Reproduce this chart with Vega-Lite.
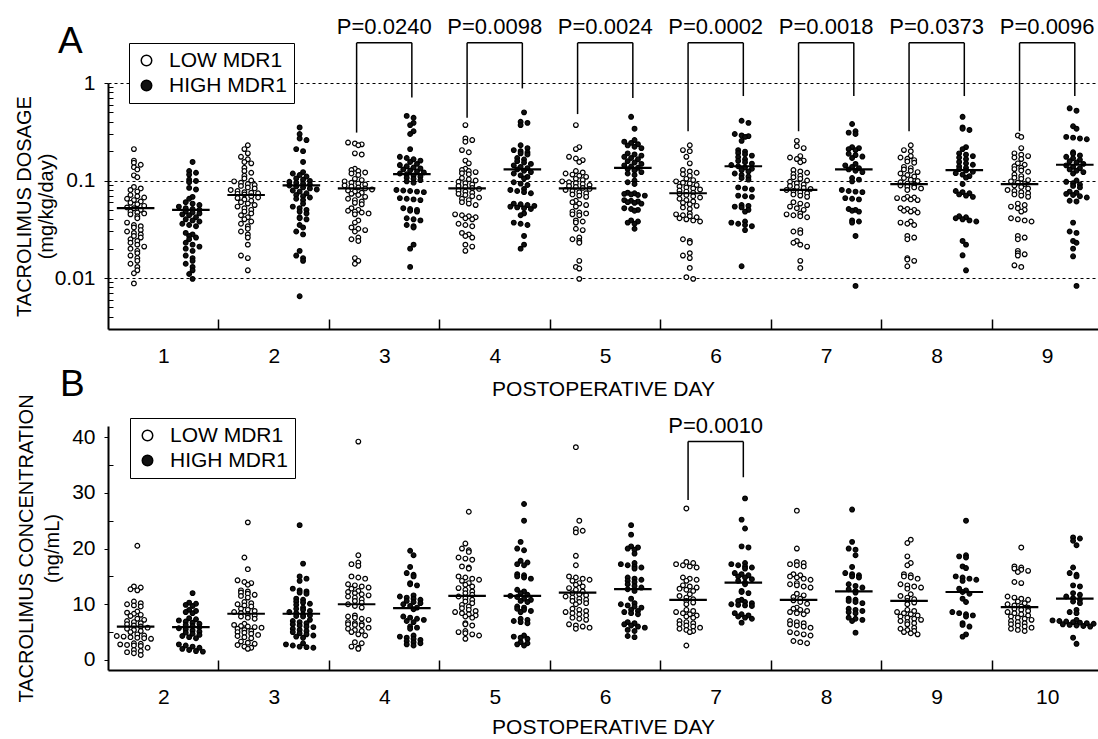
{
"$schema": "https://vega.github.io/schema/vega-lite/v6.json",
"background": "white",
"padding": {"left": 13, "top": 15, "right": 0, "bottom": 0},
"config": {
  "font": "Liberation Sans",
  "view": {"stroke": null},
  "axis": {"domainColor": "black", "tickColor": "black", "labelColor": "black", "titleColor": "black", "titleFontWeight": "normal", "labelFontSize": 21, "titleFontSize": 21, "labelFont": "Liberation Sans", "titleFont": "Liberation Sans"},
  "legend": {"title": null, "fillColor": "white", "strokeColor": "black", "padding": 7, "labelFontSize": 21, "labelOffset": 12, "symbolSize": 110, "symbolStrokeColor": "black", "symbolStrokeWidth": 1.5, "symbolType": "circle", "rowPadding": 3, "labelLimit": 400, "labelColor": "black", "labelFont": "Liberation Sans"}
},
"datasets": {
  "ptsA": [
    {"day":1,"g":"LOW MDR1","v":[0.21,0.16,0.152,0.145,0.137,0.13,0.113,0.108,0.086,0.083,0.08,0.077,0.071,0.069,0.067,0.065,0.063,0.061,0.059,0.057,0.055,0.053,0.052,0.05,0.048,0.047,0.046,0.045,0.043,0.041,0.037,0.035,0.034,0.033,0.031,0.03,0.029,0.028,0.027,0.026,0.025,0.024,0.023,0.022,0.021,0.02,0.019,0.018,0.017,0.016,0.015,0.014,0.013,0.012,0.0112,0.0088]},
    {"day":1,"g":"HIGH MDR1","v":[0.155,0.125,0.12,0.115,0.102,0.099,0.096,0.084,0.081,0.068,0.065,0.06,0.058,0.056,0.054,0.052,0.051,0.05,0.048,0.047,0.046,0.045,0.044,0.042,0.04,0.039,0.038,0.036,0.035,0.034,0.029,0.028,0.027,0.026,0.025,0.023,0.022,0.021,0.02,0.019,0.017,0.016,0.015,0.014,0.013,0.012,0.011,0.0098]},
    {"day":2,"g":"LOW MDR1","v":[0.23,0.21,0.19,0.175,0.165,0.155,0.15,0.135,0.125,0.12,0.112,0.105,0.1,0.098,0.095,0.092,0.09,0.088,0.085,0.083,0.08,0.078,0.076,0.075,0.074,0.073,0.072,0.069,0.067,0.066,0.064,0.062,0.06,0.058,0.056,0.054,0.052,0.05,0.048,0.046,0.044,0.042,0.04,0.038,0.036,0.034,0.032,0.03,0.028,0.026,0.022,0.017,0.016,0.012]},
    {"day":2,"g":"HIGH MDR1","v":[0.35,0.3,0.27,0.26,0.21,0.2,0.155,0.122,0.118,0.114,0.11,0.105,0.102,0.099,0.097,0.095,0.093,0.091,0.089,0.087,0.085,0.083,0.081,0.079,0.077,0.074,0.071,0.069,0.067,0.065,0.063,0.058,0.054,0.052,0.05,0.048,0.046,0.042,0.041,0.04,0.035,0.033,0.03,0.028,0.019,0.017,0.016,0.015,0.0065]},
    {"day":3,"g":"LOW MDR1","v":[0.245,0.24,0.235,0.23,0.19,0.185,0.132,0.128,0.125,0.121,0.118,0.114,0.104,0.101,0.098,0.095,0.093,0.091,0.089,0.087,0.085,0.083,0.081,0.079,0.077,0.075,0.073,0.071,0.068,0.065,0.063,0.061,0.059,0.057,0.052,0.05,0.049,0.048,0.047,0.046,0.045,0.039,0.037,0.033,0.032,0.031,0.03,0.026,0.025,0.024,0.016,0.015,0.014]},
    {"day":3,"g":"HIGH MDR1","v":[0.46,0.44,0.39,0.37,0.32,0.3,0.21,0.175,0.17,0.165,0.16,0.155,0.148,0.144,0.14,0.136,0.133,0.13,0.127,0.124,0.121,0.118,0.116,0.113,0.11,0.107,0.104,0.101,0.098,0.095,0.08,0.079,0.078,0.077,0.076,0.066,0.065,0.064,0.063,0.052,0.051,0.05,0.049,0.048,0.041,0.04,0.039,0.035,0.034,0.033,0.022,0.02,0.013]},
    {"day":4,"g":"LOW MDR1","v":[0.37,0.27,0.26,0.25,0.205,0.195,0.16,0.15,0.132,0.128,0.125,0.122,0.119,0.116,0.106,0.103,0.1,0.097,0.094,0.091,0.088,0.086,0.084,0.082,0.079,0.077,0.075,0.073,0.071,0.069,0.067,0.065,0.063,0.06,0.058,0.056,0.045,0.044,0.043,0.042,0.041,0.04,0.036,0.035,0.034,0.029,0.028,0.027,0.026,0.022,0.021,0.019]},
    {"day":4,"g":"HIGH MDR1","v":[0.5,0.4,0.39,0.37,0.23,0.215,0.205,0.2,0.195,0.19,0.185,0.17,0.164,0.158,0.153,0.148,0.143,0.138,0.134,0.13,0.126,0.122,0.118,0.113,0.109,0.105,0.096,0.093,0.09,0.082,0.08,0.078,0.076,0.074,0.058,0.057,0.056,0.055,0.054,0.053,0.052,0.051,0.046,0.044,0.037,0.036,0.035,0.027,0.022,0.02]},
    {"day":5,"g":"LOW MDR1","v":[0.37,0.22,0.21,0.175,0.168,0.162,0.155,0.125,0.121,0.118,0.115,0.112,0.109,0.104,0.101,0.098,0.096,0.094,0.092,0.09,0.088,0.086,0.084,0.082,0.08,0.078,0.076,0.074,0.072,0.07,0.068,0.062,0.06,0.058,0.056,0.054,0.048,0.047,0.046,0.045,0.044,0.039,0.038,0.037,0.032,0.031,0.026,0.025,0.024,0.023,0.015,0.013,0.0125,0.0098]},
    {"day":5,"g":"HIGH MDR1","v":[0.45,0.34,0.26,0.25,0.243,0.236,0.229,0.222,0.215,0.19,0.185,0.18,0.175,0.17,0.165,0.158,0.153,0.148,0.143,0.139,0.135,0.131,0.127,0.122,0.118,0.114,0.1,0.096,0.092,0.075,0.074,0.073,0.072,0.071,0.07,0.063,0.062,0.061,0.06,0.059,0.058,0.052,0.051,0.05,0.049,0.039,0.038,0.037,0.036,0.032]},
    {"day":6,"g":"LOW MDR1","v":[0.23,0.205,0.2,0.175,0.15,0.128,0.124,0.12,0.116,0.112,0.104,0.101,0.098,0.095,0.093,0.09,0.087,0.085,0.083,0.081,0.079,0.077,0.075,0.073,0.071,0.069,0.067,0.065,0.063,0.061,0.059,0.057,0.055,0.053,0.051,0.046,0.045,0.044,0.043,0.042,0.041,0.04,0.039,0.038,0.025,0.024,0.023,0.018,0.017,0.016,0.0127,0.0102,0.0098]},
    {"day":6,"g":"HIGH MDR1","v":[0.41,0.39,0.3,0.29,0.285,0.28,0.255,0.205,0.198,0.192,0.186,0.18,0.174,0.165,0.159,0.154,0.149,0.144,0.14,0.136,0.132,0.128,0.124,0.118,0.114,0.11,0.106,0.102,0.085,0.083,0.081,0.07,0.069,0.068,0.056,0.055,0.054,0.053,0.05,0.048,0.038,0.037,0.036,0.035,0.034,0.031,0.0132]},
    {"day":7,"g":"LOW MDR1","v":[0.255,0.225,0.215,0.178,0.172,0.166,0.16,0.154,0.128,0.124,0.12,0.116,0.112,0.108,0.104,0.1,0.097,0.094,0.091,0.088,0.086,0.084,0.082,0.08,0.078,0.076,0.074,0.072,0.07,0.068,0.06,0.058,0.056,0.054,0.052,0.05,0.046,0.045,0.044,0.043,0.042,0.031,0.03,0.029,0.024,0.023,0.022,0.021,0.015,0.0127]},
    {"day":7,"g":"HIGH MDR1","v":[0.38,0.32,0.31,0.3,0.22,0.215,0.21,0.205,0.188,0.182,0.176,0.17,0.148,0.143,0.138,0.134,0.13,0.126,0.122,0.106,0.102,0.098,0.08,0.078,0.077,0.076,0.066,0.065,0.064,0.051,0.05,0.049,0.048,0.039,0.038,0.037,0.027,0.0083]},
    {"day":8,"g":"LOW MDR1","v":[0.23,0.205,0.2,0.178,0.172,0.167,0.162,0.157,0.152,0.138,0.134,0.13,0.126,0.122,0.118,0.114,0.11,0.106,0.102,0.099,0.096,0.093,0.091,0.089,0.087,0.085,0.083,0.08,0.068,0.067,0.066,0.065,0.064,0.063,0.052,0.051,0.05,0.049,0.048,0.047,0.038,0.037,0.036,0.035,0.027,0.026,0.025,0.016,0.0155,0.015,0.0132]},
    {"day":8,"g":"HIGH MDR1","v":[0.45,0.35,0.34,0.33,0.22,0.21,0.19,0.184,0.178,0.172,0.166,0.155,0.15,0.145,0.14,0.135,0.131,0.127,0.123,0.119,0.115,0.111,0.107,0.092,0.078,0.076,0.074,0.072,0.07,0.068,0.043,0.042,0.041,0.04,0.039,0.038,0.024,0.022,0.0171,0.012]},
    {"day":9,"g":"LOW MDR1","v":[0.29,0.28,0.215,0.19,0.184,0.178,0.172,0.166,0.15,0.145,0.14,0.135,0.131,0.127,0.123,0.115,0.111,0.107,0.104,0.101,0.098,0.095,0.092,0.089,0.086,0.083,0.08,0.078,0.076,0.074,0.072,0.07,0.068,0.058,0.056,0.054,0.052,0.05,0.048,0.041,0.04,0.039,0.038,0.027,0.026,0.025,0.019,0.018,0.0175,0.017,0.0135,0.013]},
    {"day":9,"g":"HIGH MDR1","v":[0.55,0.52,0.36,0.34,0.28,0.275,0.27,0.265,0.195,0.188,0.181,0.175,0.169,0.163,0.158,0.153,0.148,0.143,0.138,0.134,0.13,0.126,0.122,0.118,0.1,0.097,0.094,0.091,0.088,0.085,0.077,0.075,0.073,0.071,0.069,0.067,0.062,0.061,0.037,0.03,0.029,0.024,0.023,0.02,0.0167,0.0083]}
  ],
  "ptsB": [
    {"day":2,"g":"LOW MDR1","v":[20.5,13.2,13.0,12.7,12.5,10.5,10.2,10.0,9.8,9.6,8.7,8.5,8.3,8.1,7.9,7.4,7.2,7.0,6.8,6.6,6.4,6.2,6.0,5.8,5.6,5.4,5.2,5.0,4.6,4.4,4.3,4.2,4.1,4.0,3.9,3.8,3.0,2.9,2.8,2.7,2.6,2.5,2.2,1.8,1.6,1.4,1.2,0.9]},
    {"day":2,"g":"HIGH MDR1","v":[12.0,10.3,10.1,9.9,9.7,9.0,8.8,8.6,8.4,7.5,7.3,7.1,6.9,6.7,6.5,6.3,6.1,5.9,5.7,5.5,5.3,5.1,4.9,4.7,4.5,4.3,4.1,3.9,2.8,2.6,2.4,2.2,2.0,1.8,1.6,1.5]},
    {"day":3,"g":"LOW MDR1","v":[24.7,18.4,16.3,14.3,14.0,13.8,13.5,12.5,12.3,12.1,11.9,11.7,11.5,11.2,10.4,10.2,10.0,9.8,9.6,9.2,9.0,8.8,8.6,8.4,8.2,8.0,7.8,7.6,7.4,6.5,6.3,6.1,6.0,5.9,5.8,5.6,5.4,5.2,5.0,4.9,4.7,4.5,4.3,4.1,3.9,3.3,3.1,2.9,2.7,2.4,2.2,2.0]},
    {"day":3,"g":"HIGH MDR1","v":[24.2,17.3,15.0,14.6,14.2,12.8,12.5,12.3,12.1,11.9,11.0,10.8,10.5,10.3,10.1,9.9,9.4,9.2,9.0,8.8,8.6,8.4,8.2,8.0,7.9,7.8,7.2,7.0,6.8,6.6,6.4,6.2,6.0,5.9,5.6,5.4,5.2,5.0,4.8,4.6,4.4,4.2,4.0,3.0,2.8,2.6,2.4,2.3,2.2]},
    {"day":4,"g":"LOW MDR1","v":[39.2,18.8,17.5,17.2,16.9,15.0,14.8,14.6,13.6,13.4,13.2,13.0,12.8,12.4,12.2,12.0,11.8,11.6,11.4,11.2,10.9,10.6,10.3,10.0,9.7,9.4,8.0,7.8,7.6,7.4,7.2,6.8,6.6,6.5,6.4,6.3,6.2,5.8,5.6,5.4,5.2,5.0,4.6,4.4,3.2,3.0,2.4,2.2,2.0]},
    {"day":4,"g":"HIGH MDR1","v":[19.6,18.8,16.7,15.6,15.3,15.0,13.8,13.6,13.4,11.6,11.4,11.2,11.0,10.8,10.6,10.4,10.2,10.0,9.7,9.4,9.1,7.8,7.6,7.4,7.2,7.0,6.8,6.0,5.8,5.6,4.4,4.2,4.0,3.8,3.6,3.4,3.2,3.0,2.8,2.6]},
    {"day":5,"g":"LOW MDR1","v":[26.6,20.9,20.0,19.7,19.4,18.4,18.2,18.0,16.8,16.6,16.4,15.0,14.8,14.6,14.4,14.2,13.8,13.5,13.2,12.9,12.6,12.3,12.0,11.7,11.4,11.1,10.8,10.5,10.2,9.9,9.6,9.3,9.0,8.8,8.6,8.4,8.2,8.0,7.8,7.6,6.6,6.4,6.2,5.2,5.0,4.8,4.6,4.4,3.8]},
    {"day":5,"g":"HIGH MDR1","v":[28.0,25.0,21.2,20.0,19.7,17.8,17.5,17.2,17.0,15.4,15.2,15.0,14.8,14.6,12.6,12.3,12.0,11.7,11.5,11.3,11.0,10.8,10.6,10.4,9.6,9.4,9.2,9.0,8.8,8.6,7.4,7.2,7.0,6.8,6.6,4.4,4.2,4.0,3.8,3.2,3.0,2.8,2.6]},
    {"day":6,"g":"LOW MDR1","v":[38.2,25.0,23.5,23.2,22.9,18.7,17.0,15.0,14.8,14.6,14.4,14.2,13.8,13.5,13.2,12.9,12.6,12.3,12.0,11.8,11.6,11.4,11.2,11.0,10.8,10.6,10.4,10.2,10.0,9.2,9.0,8.8,8.6,8.4,8.2,8.0,7.6,7.4,7.2,6.4,6.2,6.0,5.8,5.6]},
    {"day":6,"g":"HIGH MDR1","v":[24.2,22.5,20.4,20.2,20.0,19.8,19.1,17.4,17.2,17.0,16.8,16.6,16.4,14.8,14.6,14.4,14.2,14.0,13.6,13.3,13.0,12.7,12.4,11.0,10.2,10.0,9.8,9.6,9.4,9.0,8.8,8.6,8.4,8.2,6.8,6.6,6.4,6.2,6.0,5.8,5.4,5.2,4.3,4.1]},
    {"day":7,"g":"LOW MDR1","v":[27.2,17.6,17.4,17.2,17.0,16.8,16.6,14.8,14.6,14.4,14.2,13.4,13.2,13.0,12.8,12.6,12.4,11.8,11.5,11.2,10.9,10.6,10.3,10.0,9.0,8.8,8.6,8.4,8.2,8.0,7.8,7.6,7.0,6.8,6.6,6.4,6.2,6.0,5.8,5.6,5.4,5.2,5.0,2.6]},
    {"day":7,"g":"HIGH MDR1","v":[29.0,25.2,23.6,20.4,20.2,17.4,17.2,17.0,16.8,16.6,16.4,15.6,15.4,15.2,15.0,14.8,14.5,14.2,13.9,13.6,12.4,12.2,12.0,10.8,10.6,10.4,10.2,10.0,9.9,9.8,9.7,8.4,8.2,8.0,7.8,7.6,7.4,6.7]},
    {"day":8,"g":"LOW MDR1","v":[26.8,20.0,17.6,17.4,17.2,17.0,16.8,15.4,15.2,15.0,14.8,14.6,14.4,13.8,13.6,13.4,13.2,13.0,11.9,11.6,11.3,11.0,10.7,10.4,10.1,9.4,9.2,9.0,8.8,8.6,8.4,8.2,7.0,6.8,6.6,6.4,6.2,6.0,5.8,5.0,4.8,4.6,4.4,3.4,3.2,3.0]},
    {"day":8,"g":"HIGH MDR1","v":[27.0,21.2,20.0,19.8,18.8,16.7,15.6,15.4,15.2,15.0,14.8,13.6,13.3,13.0,12.7,12.4,12.1,11.0,10.8,10.6,10.4,10.2,9.2,9.0,8.8,8.6,8.4,7.6,7.4,7.2,7.0,4.9]},
    {"day":9,"g":"LOW MDR1","v":[21.6,21.0,18.6,17.4,17.0,15.4,15.2,15.0,14.8,14.6,13.6,13.4,13.2,13.0,12.8,11.8,11.5,11.2,10.9,10.6,10.3,10.0,9.0,8.8,8.6,8.4,8.2,8.0,7.8,7.6,7.4,7.2,7.0,6.8,6.6,6.4,5.8,5.6,5.4,5.2,5.0,4.8,4.6]},
    {"day":9,"g":"HIGH MDR1","v":[25.0,18.8,18.6,18.4,16.8,16.5,15.0,14.8,14.6,14.4,14.2,12.8,12.5,12.2,11.9,11.0,10.4,8.6,8.4,8.2,8.0,7.8,6.6,6.3,6.0,4.6,4.2]},
    {"day":10,"g":"LOW MDR1","v":[20.2,16.8,16.6,16.4,16.2,16.0,15.8,14.0,13.8,11.4,11.2,11.0,10.8,10.5,10.2,10.0,9.8,9.6,9.4,9.2,9.0,8.8,8.6,8.4,8.2,8.0,7.8,7.6,7.4,7.2,7.0,6.8,6.6,6.4,6.2,6.0,5.8,5.6,5.4,5.2]},
    {"day":10,"g":"HIGH MDR1","v":[22.0,21.8,21.4,20.6,16.6,15.6,15.3,15.0,13.4,13.2,12.0,11.7,11.4,11.1,10.8,10.5,10.2,9.0,8.6,8.4,7.2,7.1,7.0,6.9,6.8,6.7,6.6,6.5,6.4,6.3,6.2,6.1,6.0,4.0,2.9]}
  ],
  "medA": [
    {"day":1,"g":"LOW MDR1","m":0.052},{"day":1,"g":"HIGH MDR1","m":0.05},
    {"day":2,"g":"LOW MDR1","m":0.071},{"day":2,"g":"HIGH MDR1","m":0.089},
    {"day":3,"g":"LOW MDR1","m":0.083},{"day":3,"g":"HIGH MDR1","m":0.116},
    {"day":4,"g":"LOW MDR1","m":0.083},{"day":4,"g":"HIGH MDR1","m":0.13},
    {"day":5,"g":"LOW MDR1","m":0.083},{"day":5,"g":"HIGH MDR1","m":0.135},
    {"day":6,"g":"LOW MDR1","m":0.074},{"day":6,"g":"HIGH MDR1","m":0.14},
    {"day":7,"g":"LOW MDR1","m":0.08},{"day":7,"g":"HIGH MDR1","m":0.13},
    {"day":8,"g":"LOW MDR1","m":0.092},{"day":8,"g":"HIGH MDR1","m":0.128},
    {"day":9,"g":"LOW MDR1","m":0.092},{"day":9,"g":"HIGH MDR1","m":0.145}
  ],
  "medB": [
    {"day":2,"g":"LOW MDR1","m":6.0},{"day":2,"g":"HIGH MDR1","m":5.9},
    {"day":3,"g":"LOW MDR1","m":8.3},{"day":3,"g":"HIGH MDR1","m":8.3},
    {"day":4,"g":"LOW MDR1","m":10.0},{"day":4,"g":"HIGH MDR1","m":9.3},
    {"day":5,"g":"LOW MDR1","m":11.5},{"day":5,"g":"HIGH MDR1","m":11.5},
    {"day":6,"g":"LOW MDR1","m":12.1},{"day":6,"g":"HIGH MDR1","m":12.7},
    {"day":7,"g":"LOW MDR1","m":10.8},{"day":7,"g":"HIGH MDR1","m":13.9},
    {"day":8,"g":"LOW MDR1","m":10.8},{"day":8,"g":"HIGH MDR1","m":12.3},
    {"day":9,"g":"LOW MDR1","m":10.6},{"day":9,"g":"HIGH MDR1","m":12.2},
    {"day":10,"g":"LOW MDR1","m":9.5},{"day":10,"g":"HIGH MDR1","m":11.0}
  ],
  "brA": [
    {"day":3,"yl":0.31,"yr":0.71,"p":"P=0.0240"},
    {"day":4,"yl":0.44,"yr":0.88,"p":"P=0.0098"},
    {"day":5,"yl":0.48,"yr":0.7,"p":"P=0.0024"},
    {"day":6,"yl":0.32,"yr":0.735,"p":"P=0.0002"},
    {"day":7,"yl":0.32,"yr":0.735,"p":"P=0.0018"},
    {"day":8,"yl":0.32,"yr":0.735,"p":"P=0.0373"},
    {"day":9,"yl":0.32,"yr":0.735,"p":"P=0.0096"}
  ],
  "brB": [
    {"day":7,"yl":28.7,"yr":32.8,"p":"P=0.0010"}
  ]
},
"vconcat": [
  {
    "width": 990, "height": 246,
    "layer": [
      {
        "data": {"name": "ptsA"},
        "transform": [
          {"flatten": ["v"]},
          {"calculate": "log(datum.v)/LN10", "as": "ly"},
          {"calculate": "floor(datum.ly/0.042)", "as": "yb"},
          {"window": [{"op": "row_number", "as": "rk"}], "groupby": ["day", "g", "yb"]},
          {"joinaggregate": [{"op": "count", "as": "n"}], "groupby": ["day", "g", "yb"]},
          {"calculate": "datum.day + (datum.g === 'LOW MDR1' ? -0.25 : 0.25) + (datum.rk - (datum.n + 1) / 2 + (abs(datum.yb) % 2 === 0 ? 0.25 : -0.25)) * 0.062", "as": "xp"}
        ],
        "mark": {"type": "point", "filled": true, "stroke": "black", "strokeWidth": 1.2, "size": 22, "opacity": 1},
        "encoding": {
          "x": {"field": "xp", "type": "quantitative", "scale": {"domain": [0.5, 9.46], "nice": false, "zero": false},
                "axis": {"orient": "bottom", "values": [1,2,3,4,5,6,7,8,9], "format": "d", "ticks": false, "grid": false, "domainWidth": 2, "labelPadding": 16, "title": "POSTOPERATIVE DAY", "titlePadding": 12}},
          "y": {"field": "v", "type": "quantitative", "scale": {"type": "log", "domain": [0.003, 1], "nice": false},
                "axis": {"orient": "left", "values": [0.01, 0.1, 1], "format": "~g", "grid": true, "gridDash": [3, 3], "gridColor": "black", "gridWidth": 1.2, "tickSize": 4, "labelPadding": 9, "domainWidth": 2, "title": ["TACROLIMUS DOSAGE", "(mg/kg/day)"], "titleFontSize": 20, "titleLineHeight": 22, "titleX": -74}},
          "fill": {"field": "g", "type": "nominal", "scale": {"domain": ["LOW MDR1", "HIGH MDR1"], "range": ["white", "#111111"]},
                   "legend": {"orient": "none", "legendX": 21, "legendY": -40,
                              "encode": {"symbols": {"update": {"fill": {"signal": "datum.value === 'HIGH MDR1' ? '#4a4a4a' : 'white'"}}}}}}
        }
      },
      {
        "data": {"name": "medA"},
        "transform": [
          {"calculate": "datum.day + (datum.g === 'LOW MDR1' ? -0.25 : 0.25) - 0.17", "as": "xl"},
          {"calculate": "datum.day + (datum.g === 'LOW MDR1' ? -0.25 : 0.25) + 0.17", "as": "xr"}
        ],
        "mark": {"type": "rule", "color": "black", "strokeWidth": 2.2},
        "encoding": {
          "x": {"field": "xl", "type": "quantitative", "scale": {"domain": [0.5, 9.46], "nice": false, "zero": false},
                "axis": {"orient": "bottom", "values": [1.5,2.5,3.5,4.5,5.5,6.5,7.5,8.5], "labels": false, "ticks": true, "tickSize": -10, "tickWidth": 1.5, "domain": false, "grid": false, "title": null}},
          "x2": {"field": "xr"},
          "y": {"field": "m", "type": "quantitative", "scale": {"type": "log", "domain": [0.003, 1], "nice": false},
                "axis": {"orient": "left", "values": [0.004,0.005,0.006,0.007,0.008,0.009,0.02,0.03,0.04,0.05,0.06,0.07,0.08,0.09,0.2,0.3,0.4,0.5,0.6,0.7,0.8,0.9], "labels": false, "tickSize": -5, "domain": false, "grid": false, "title": null}}
        }
      },
      {
        "data": {"name": "brA"},
        "transform": [
          {"calculate": "datum.day - 0.25", "as": "xl"},
          {"calculate": "datum.day + 0.25", "as": "xr"}
        ],
        "layer": [
          {"mark": {"type": "rule", "color": "black", "strokeWidth": 1.5},
           "encoding": {"x": {"field": "xl", "type": "quantitative", "axis": null}, "y": {"field": "yl", "type": "quantitative", "axis": null}, "y2": {"datum": 2.58}}},
          {"mark": {"type": "rule", "color": "black", "strokeWidth": 1.5},
           "encoding": {"x": {"field": "xr", "type": "quantitative", "axis": null}, "y": {"field": "yr", "type": "quantitative", "axis": null}, "y2": {"datum": 2.58}}},
          {"mark": {"type": "rule", "color": "black", "strokeWidth": 1.5},
           "encoding": {"x": {"field": "xl", "type": "quantitative", "axis": null}, "x2": {"field": "xr"}, "y": {"datum": 2.58, "type": "quantitative", "axis": null}}},
          {"mark": {"type": "text", "fontSize": 22, "baseline": "middle", "color": "black"},
           "encoding": {"x": {"field": "day", "type": "quantitative", "axis": null}, "y": {"datum": 3.76, "type": "quantitative", "axis": null}, "text": {"field": "p"}}}
        ]
      },
      {
        "data": {"values": [{"panel": "A"}]},
        "mark": {"type": "text", "fontSize": 37, "align": "left", "baseline": "alphabetic", "color": "black"},
        "encoding": {"x": {"datum": 0.0475, "type": "quantitative", "axis": null}, "y": {"datum": 2.03, "type": "quantitative", "axis": null}, "text": {"field": "panel"}}
      }
    ],
    "resolve": {"axis": {"x": "independent", "y": "independent"}}
  },
  {
    "width": 990, "height": 244,
    "layer": [
      {
        "data": {"name": "ptsB"},
        "transform": [
          {"flatten": ["v"]},
          {"calculate": "floor(datum.v/0.72)", "as": "yb"},
          {"window": [{"op": "row_number", "as": "rk"}], "groupby": ["day", "g", "yb"]},
          {"joinaggregate": [{"op": "count", "as": "n"}], "groupby": ["day", "g", "yb"]},
          {"calculate": "datum.day + (datum.g === 'LOW MDR1' ? -0.25 : 0.25) + (datum.rk - (datum.n + 1) / 2 + (abs(datum.yb) % 2 === 0 ? 0.25 : -0.25)) * 0.062", "as": "xp"}
        ],
        "mark": {"type": "point", "filled": true, "stroke": "black", "strokeWidth": 1.2, "size": 22, "opacity": 1},
        "encoding": {
          "x": {"field": "xp", "type": "quantitative", "scale": {"domain": [1.5, 10.46], "nice": false, "zero": false},
                "axis": {"orient": "bottom", "values": [2,3,4,5,6,7,8,9,10], "format": "d", "ticks": false, "grid": false, "domainWidth": 2, "labelPadding": 16, "title": "POSTOPERATIVE DAY", "titlePadding": 9}},
          "y": {"field": "v", "type": "quantitative", "scale": {"domain": [-1.8, 42], "nice": false, "zero": false},
                "axis": {"orient": "left", "values": [0, 10, 20, 30, 40], "format": "d", "grid": false, "tickSize": 4, "labelPadding": 9, "domainWidth": 2, "title": ["TACROLIMUS CONCENTRATION", "(ng/mL)"], "titleFontSize": 20, "titleLineHeight": 26, "titleX": -72}},
          "fill": {"field": "g", "type": "nominal", "scale": {"domain": ["LOW MDR1", "HIGH MDR1"], "range": ["white", "#111111"]},
                   "legend": {"orient": "none", "legendX": 22, "legendY": -8,
                              "encode": {"symbols": {"update": {"fill": {"signal": "datum.value === 'HIGH MDR1' ? '#4a4a4a' : 'white'"}}}}}}
        }
      },
      {
        "data": {"name": "medB"},
        "transform": [
          {"calculate": "datum.day + (datum.g === 'LOW MDR1' ? -0.25 : 0.25) - 0.17", "as": "xl"},
          {"calculate": "datum.day + (datum.g === 'LOW MDR1' ? -0.25 : 0.25) + 0.17", "as": "xr"}
        ],
        "mark": {"type": "rule", "color": "black", "strokeWidth": 2.2},
        "encoding": {
          "x": {"field": "xl", "type": "quantitative", "scale": {"domain": [1.5, 10.46], "nice": false, "zero": false},
                "axis": {"orient": "bottom", "values": [2.5,3.5,4.5,5.5,6.5,7.5,8.5,9.5], "labels": false, "ticks": true, "tickSize": -10, "tickWidth": 1.5, "domain": false, "grid": false, "title": null}},
          "x2": {"field": "xr"},
          "y": {"field": "m", "type": "quantitative", "scale": {"domain": [-1.8, 42], "nice": false, "zero": false},
                "axis": {"orient": "left", "values": [5, 15, 25, 35], "labels": false, "tickSize": -5, "domain": false, "grid": false, "title": null}}
        }
      },
      {
        "data": {"name": "brB"},
        "transform": [
          {"calculate": "datum.day - 0.25", "as": "xl"},
          {"calculate": "datum.day + 0.25", "as": "xr"}
        ],
        "layer": [
          {"mark": {"type": "rule", "color": "black", "strokeWidth": 1.5},
           "encoding": {"x": {"field": "xl", "type": "quantitative", "axis": null},
                        "y": {"field": "yl", "type": "quantitative", "axis": {"orient": "left", "values": [10, 20, 30, 40], "labels": false, "ticks": false, "domain": false, "grid": true, "gridDash": [3, 3], "gridColor": "black", "gridWidth": 1.2, "title": null}},
                        "y2": {"datum": 39.2}}},
          {"mark": {"type": "rule", "color": "black", "strokeWidth": 1.5},
           "encoding": {"x": {"field": "xr", "type": "quantitative", "axis": null}, "y": {"field": "yr", "type": "quantitative", "axis": null}, "y2": {"datum": 39.2}}},
          {"mark": {"type": "rule", "color": "black", "strokeWidth": 1.5},
           "encoding": {"x": {"field": "xl", "type": "quantitative", "axis": null}, "x2": {"field": "xr"}, "y": {"datum": 39.2, "type": "quantitative", "axis": null}}},
          {"mark": {"type": "text", "fontSize": 22, "baseline": "middle", "color": "black"},
           "encoding": {"x": {"field": "day", "type": "quantitative", "axis": null}, "y": {"datum": 42, "type": "quantitative", "axis": null}, "text": {"field": "p"}}}
        ]
      },
      {
        "data": {"values": [{"panel": "B"}]},
        "mark": {"type": "text", "fontSize": 37, "align": "left", "baseline": "alphabetic", "color": "black"},
        "encoding": {"x": {"datum": 1.066, "type": "quantitative", "axis": null}, "y": {"datum": 47.4, "type": "quantitative", "axis": null}, "text": {"field": "panel"}}
      }
    ],
    "resolve": {"axis": {"x": "independent", "y": "independent"}}
  }
],
"spacing": 97,
"bounds": "flush",
"resolve": {"scale": {"fill": "independent"}, "legend": {"fill": "independent"}}
}
